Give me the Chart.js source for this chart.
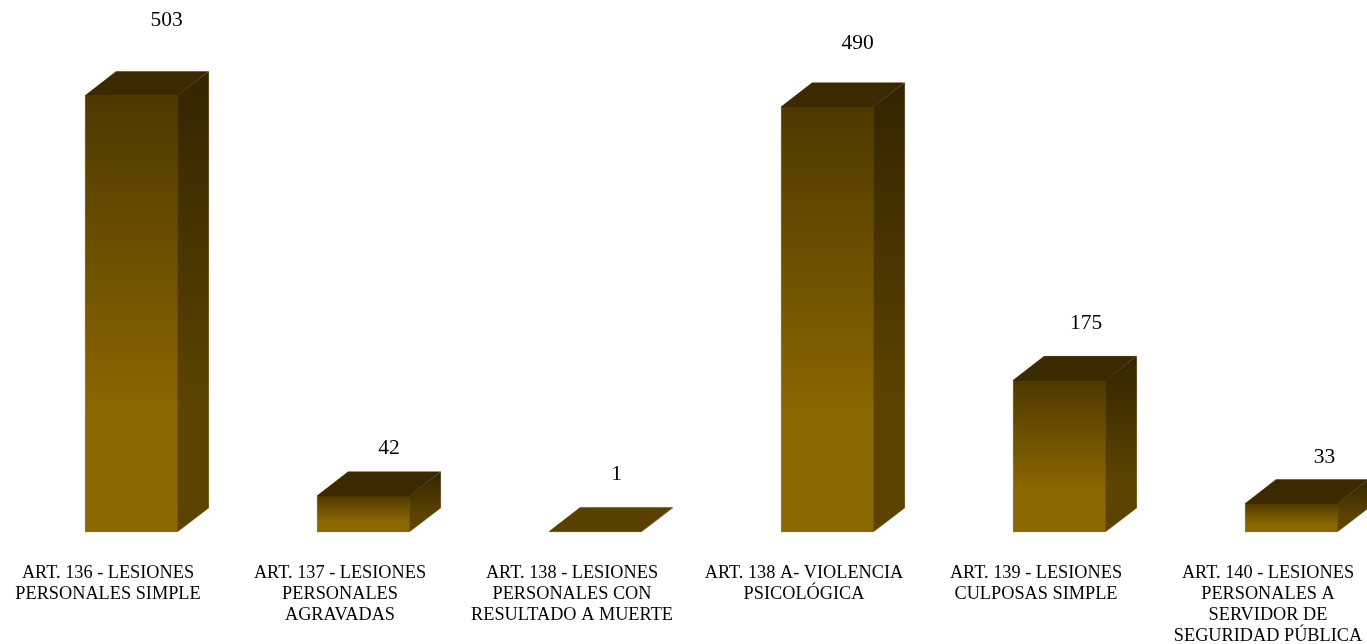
<!DOCTYPE html>
<html>
<head>
<meta charset="utf-8">
<title>Lesiones personales</title>
<script src="https://cdn.jsdelivr.net/npm/chart.js@4/dist/chart.umd.min.js"></script>
<style>
  html, body { margin: 0; padding: 0; background: #fff; overflow: hidden; width: 1367px; height: 644px; }
  canvas { display: block; position: absolute; left: 0; top: 0; }
</style>
</head>
<body>
<canvas id="chart" width="1408" height="644"></canvas>
<script>
const categories = [
  ["ART. 136 - LESIONES", "PERSONALES SIMPLE"],
  ["ART. 137 - LESIONES", "PERSONALES", "AGRAVADAS"],
  ["ART. 138 - LESIONES", "PERSONALES CON", "RESULTADO A MUERTE"],
  ["ART. 138 A- VIOLENCIA", "PSICOLÓGICA"],
  ["ART. 139 - LESIONES", "CULPOSAS SIMPLE"],
  ["ART. 140 - LESIONES", "PERSONALES A", "SERVIDOR DE", "SEGURIDAD PÚBLICA"]
];
const values = [503, 42, 1, 490, 175, 33];

// the value labels in the original do not sit at a fixed distance from the bars
const labelShiftX = [35, 25.5, 21, 30, 26.5, 33];
const labelShiftY = [75, 47, 57, 63, 57, 46];

const fontFamily = '"Liberation Serif", "Times New Roman", serif';
const depthX = 31;
const depthY = 24;

function verticalGradient(ctx, top, bottom, from, to) {
  const g = ctx.createLinearGradient(0, top, 0, bottom);
  g.addColorStop(0, from);
  g.addColorStop(0.72, to);
  g.addColorStop(1, to);
  return g;
}

const bars3d = {
  id: "bars3d",
  afterDatasetsDraw(chart) {
    const ctx = chart.ctx;
    const meta = chart.getDatasetMeta(0);
    ctx.save();
    meta.data.forEach((bar, i) => {
      const left = bar.x - bar.width / 2;
      const right = bar.x + bar.width / 2;
      const top = bar.y;
      const base = bar.base;

      // side face
      ctx.beginPath();
      ctx.moveTo(right - 0.5, top);
      ctx.lineTo(right + depthX, top - depthY);
      ctx.lineTo(right + depthX, base - depthY);
      ctx.lineTo(right - 0.5, base);
      ctx.closePath();
      ctx.fillStyle = verticalGradient(ctx, top - depthY, base, "#342500", "#5c4300");
      ctx.fill();

      // top face, the very flat bar comes out lighter
      // it runs a little into the front so no pale seam shows
      ctx.beginPath();
      ctx.moveTo(left, top + 0.6);
      ctx.lineTo(left, top);
      ctx.lineTo(left + depthX, top - depthY);
      ctx.lineTo(right + depthX, top - depthY);
      ctx.lineTo(right, top);
      ctx.lineTo(right, top + 0.6);
      ctx.closePath();
      ctx.fillStyle = base - top < 3 ? "#5a4000" : "#3b2a00";
      ctx.fill();

      // thin pale edge round the block
      ctx.beginPath();
      ctx.moveTo(left, base);
      ctx.lineTo(left, top);
      ctx.lineTo(left + depthX, top - depthY);
      ctx.lineTo(right + depthX, top - depthY);
      ctx.lineTo(right + depthX, base - depthY);
      ctx.lineTo(right, base);
      ctx.lineTo(left, base);
      ctx.strokeStyle = "rgba(170,150,100,0.35)";
      ctx.lineWidth = 0.7;
      ctx.stroke();

      ctx.fillStyle = "#000";
      ctx.font = "21.5px " + fontFamily;
      ctx.textAlign = "center";
      ctx.textBaseline = "middle";
      ctx.fillText(String(values[i]), bar.x + labelShiftX[i], top - labelShiftY[i]);
    });
    ctx.restore();
  }
};

new Chart(document.getElementById("chart"), {
  type: "bar",
  plugins: [bars3d],
  data: {
    labels: categories,
    datasets: [{
      data: values,
      barPercentage: 0.4,
      categoryPercentage: 1,
      borderWidth: 0,
      backgroundColor(c) {
        const { chart } = c;
        if (!chart.chartArea || c.parsed === undefined) return "#8b6700";
        const y = chart.scales.y;
        const top = y.getPixelForValue(c.parsed.y);
        const base = y.getPixelForValue(0);
        if (base - top < 3) return "#8b6700";
        return verticalGradient(chart.ctx, top, base, "#4f3800", "#8b6700");
      }
    }]
  },
  options: {
    responsive: false,
    animation: false,
    events: [],
    layout: { padding: { left: 15.5, right: 0.5, top: 11, bottom: 0 } },
    plugins: { legend: { display: false }, title: { display: false }, tooltip: { enabled: false } },
    scales: {
      x: {
        grid: { display: false, drawTicks: false },
        border: { display: false },
        afterFit(scale) {
          scale.height = 112;
          // long labels must not squeeze the categories
          scale.paddingLeft = 0;
          scale.paddingRight = 0;
        },
        ticks: {
          autoSkip: false,
          maxRotation: 0,
          minRotation: 0,
          padding: 31,
          labelOffset: -23.5,
          color: "#000",
          font: { family: fontFamily, size: 18.3, lineHeight: 1.148 }
        }
      },
      y: {
        display: false,
        min: 0,
        max: 600
      }
    }
  }
});
</script>
</body>
</html>
